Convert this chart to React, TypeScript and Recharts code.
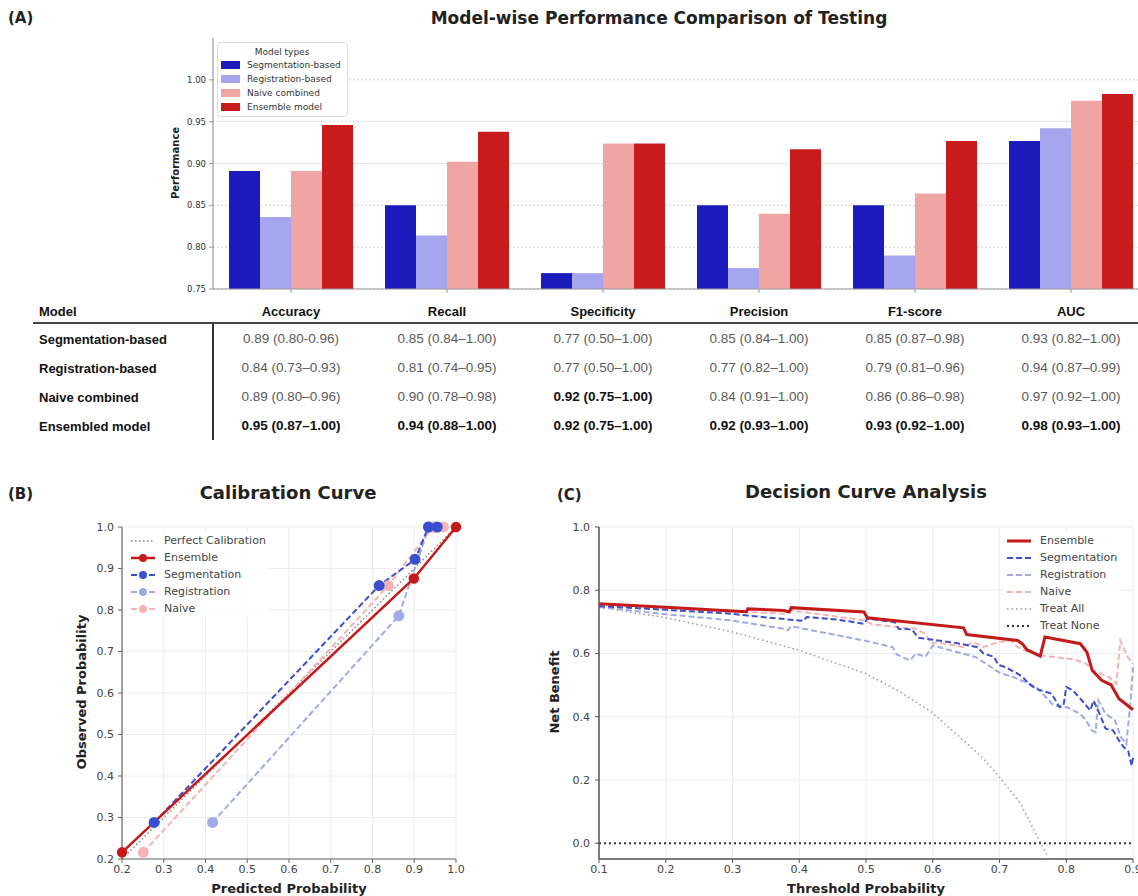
import React from 'react';
import { BarChart, Bar, XAxis, YAxis, CartesianGrid, Legend, LineChart, Line } from 'recharts';

// ---------- Panel A data ----------
const categories = ['Accuracy', 'Recall', 'Specificity', 'Precision', 'F1-score', 'AUC'];
const segmentationScores = [0.891, 0.85, 0.769, 0.85, 0.85, 0.927];
const registrationScores = [0.836, 0.814, 0.769, 0.775, 0.79, 0.942];
const naiveScores = [0.891, 0.902, 0.924, 0.84, 0.864, 0.975];
const ensembleScores = [0.946, 0.938, 0.924, 0.917, 0.927, 0.983];
const performanceTicks = [0.75, 0.8, 0.85, 0.9, 0.95, 1.0];
const modelTypeNames = ['Segmentation-based', 'Registration-based', 'Naive combined', 'Ensemble model'];

// ---------- Table data ----------
const tableModels = ['Segmentation-based', 'Registration-based', 'Naive combined', 'Ensembled model'];
const segmentationCells = ['0.89 (0.80-0.96)', '0.85 (0.84–1.00)', '0.77 (0.50–1.00)', '0.85 (0.84–1.00)', '0.85 (0.87–0.98)', '0.93 (0.82–1.00)'];
const registrationCells = ['0.84 (0.73–0.93)', '0.81 (0.74–0.95)', '0.77 (0.50–1.00)', '0.77 (0.82–1.00)', '0.79 (0.81–0.96)', '0.94 (0.87–0.99)'];
const naiveCells = ['0.89 (0.80–0.96)', '0.90 (0.78–0.98)', '0.92 (0.75–1.00)', '0.84 (0.91–1.00)', '0.86 (0.86–0.98)', '0.97 (0.92–1.00)'];
const ensembleCells = ['0.95 (0.87–1.00)', '0.94 (0.88–1.00)', '0.92 (0.75–1.00)', '0.92 (0.93–1.00)', '0.93 (0.92–1.00)', '0.98 (0.93–1.00)'];
const segmentationBold = [false, false, false, false, false, false];
const registrationBold = [false, false, false, false, false, false];
const naiveBold = [false, false, true, false, false, false];
const ensembleBold = [true, true, true, true, true, true];

// ---------- Panel B data (predicted, observed) ----------
const perfectCalibration = [[0.2, 0.2], [1.0, 1.0]];
const ensembleCalibration = [[0.2, 0.216], [0.899, 0.876], [1.0, 1.0]];
const segmentationCalibration = [[0.277, 0.288], [0.816, 0.859], [0.902, 0.922], [0.934, 1.0], [0.955, 1.0]];
const registrationCalibration = [[0.417, 0.288], [0.863, 0.786], [0.935, 1.0], [0.95, 1.0]];
const naiveCalibration = [[0.251, 0.216], [0.838, 0.859], [0.945, 1.0], [0.97, 1.0]];
const calibrationTicks = [0.2, 0.3, 0.4, 0.5, 0.6, 0.7, 0.8, 0.9, 1.0];

// ---------- Panel C data (threshold, net benefit) ----------
const ensembleDca = [[0.1, 0.757], [0.2, 0.746], [0.3, 0.734], [0.321, 0.732], [0.323, 0.741], [0.377, 0.736], [0.385, 0.731], [0.388, 0.745], [0.497, 0.731], [0.502, 0.713], [0.646, 0.681], [0.651, 0.66], [0.727, 0.641], [0.734, 0.631], [0.741, 0.612], [0.761, 0.592], [0.768, 0.652], [0.821, 0.631], [0.831, 0.604], [0.839, 0.546], [0.853, 0.515], [0.867, 0.501], [0.879, 0.457], [0.9, 0.422]];
const segmentationDca = [[0.1, 0.75], [0.2, 0.738], [0.297, 0.726], [0.322, 0.72], [0.406, 0.703], [0.411, 0.715], [0.457, 0.707], [0.497, 0.694], [0.502, 0.71], [0.543, 0.699], [0.549, 0.678], [0.569, 0.676], [0.578, 0.65], [0.641, 0.631], [0.667, 0.62], [0.676, 0.6], [0.692, 0.589], [0.698, 0.564], [0.709, 0.557], [0.727, 0.536], [0.735, 0.525], [0.744, 0.504], [0.755, 0.488], [0.778, 0.473], [0.79, 0.43], [0.796, 0.436], [0.8, 0.494], [0.81, 0.483], [0.819, 0.462], [0.836, 0.42], [0.841, 0.451], [0.85, 0.409], [0.859, 0.362], [0.87, 0.357], [0.879, 0.325], [0.886, 0.304], [0.893, 0.29], [0.898, 0.245], [0.9, 0.27]];
const registrationDca = [[0.1, 0.747], [0.2, 0.724], [0.297, 0.705], [0.377, 0.678], [0.383, 0.673], [0.388, 0.686], [0.497, 0.641], [0.54, 0.62], [0.546, 0.597], [0.566, 0.578], [0.575, 0.6], [0.589, 0.589], [0.6, 0.625], [0.664, 0.589], [0.701, 0.538], [0.721, 0.525], [0.738, 0.51], [0.755, 0.494], [0.781, 0.436], [0.801, 0.43], [0.821, 0.409], [0.83, 0.388], [0.838, 0.357], [0.844, 0.351], [0.848, 0.451], [0.859, 0.409], [0.873, 0.388], [0.882, 0.335], [0.89, 0.314], [0.896, 0.44], [0.9, 0.557]];
const naiveDca = [[0.1, 0.755], [0.297, 0.733], [0.377, 0.726], [0.388, 0.736], [0.497, 0.705], [0.509, 0.692], [0.575, 0.678], [0.589, 0.662], [0.598, 0.631], [0.606, 0.636], [0.646, 0.62], [0.661, 0.636], [0.675, 0.62], [0.698, 0.636], [0.718, 0.641], [0.727, 0.62], [0.738, 0.61], [0.761, 0.594], [0.813, 0.581], [0.83, 0.567], [0.841, 0.546], [0.864, 0.525], [0.875, 0.504], [0.881, 0.641], [0.892, 0.589], [0.9, 0.567]];
const treatAllDca = [[0.1, 0.747], [0.2, 0.713], [0.3, 0.668], [0.4, 0.61], [0.5, 0.536], [0.55, 0.48], [0.598, 0.415], [0.646, 0.325], [0.675, 0.27], [0.698, 0.214], [0.715, 0.17], [0.732, 0.124], [0.745, 0.07], [0.761, 0.003], [0.773, -0.044]];
const treatNoneDca = [[0.1, 0.0], [0.9, 0.0]];
const thresholdTicks = [0.1, 0.2, 0.3, 0.4, 0.5, 0.6, 0.7, 0.8, 0.9];
const netBenefitTicks = [0.0, 0.2, 0.4, 0.6, 0.8, 1.0];

// ---------- styles ----------
const DJ = "'DejaVu Sans', sans-serif";
const TF = "'Liberation Sans', Arial, sans-serif";
const C_SEG = '#1c1cbd';
const C_REG = '#a6a6ee';
const C_NAI = '#f0a5a5';
const C_ENS = '#c81c1c';
const barColors = [C_SEG, C_REG, C_NAI, C_ENS];
const L_ENS = '#c41a1a';
const L_SEG = '#3a4fd0';
const L_REG = '#a0aae6';
const L_NAI = '#f5b3b3';

const toPoints = (arr: number[][]) => arr.map(([x, y]) => ({ x, y }));

const barData = categories.map((c, i) => ({
  metric: c,
  seg: segmentationScores[i],
  reg: registrationScores[i],
  naive: naiveScores[i],
  ens: ensembleScores[i],
}));

const Txt = ({ x, y, children, size = 12, weight = 400, color = '#222', family = DJ, anchor = 'middle', rotate = 0 }: any) => {
  const tx = anchor === 'middle' ? '-50%' : anchor === 'end' ? '-100%' : '0';
  return (
    <div
      style={{
        position: 'absolute', left: x, top: y,
        transform: `translate(${tx},-50%) rotate(${rotate}deg)`,
        fontSize: size, fontWeight: weight, color, fontFamily: family,
        whiteSpace: 'nowrap', lineHeight: 1,
      }}
    >
      {children}
    </div>
  );
};

const BarLegend = () => (
  <div style={{ border: '1px solid #dcdcdc', borderRadius: 3, background: '#fff', padding: '3px 4px 2px 3px', fontFamily: DJ, fontSize: 9, color: '#333', width: 122, whiteSpace: 'nowrap' }}>
    <div style={{ textAlign: 'center', height: 12, lineHeight: '12px' }}>Model types</div>
    {modelTypeNames.map((n, i) => (
      <div key={n} style={{ display: 'flex', alignItems: 'center', height: 14 }}>
        <span style={{ display: 'inline-block', width: 19, height: 8, background: barColors[i], marginRight: 7, flex: 'none' }} />
        <span>{n}</span>
      </div>
    ))}
  </div>
);

type LegendItem = { name: string; color: string; dash?: string; width: number; marker?: boolean };

const LineLegend = ({ items }: { items: LegendItem[] }) => (
  <div style={{ background: 'rgba(255,255,255,0.85)', borderRadius: 3, padding: '0 4px', fontFamily: DJ, fontSize: 11, color: '#444', whiteSpace: 'nowrap' }}>
    {items.map((it) => (
      <div key={it.name} style={{ display: 'flex', alignItems: 'center', height: 17 }}>
        <svg width={26} height={12} style={{ marginRight: 8 }}>
          <line x1={1} x2={25} y1={6} y2={6} stroke={it.color} strokeWidth={it.width} strokeDasharray={it.dash} />
          {it.marker ? <circle cx={13} cy={6} r={4} fill={it.color} /> : null}
        </svg>
        <span>{it.name}</span>
      </div>
    ))}
  </div>
);

const calibrationLegend: LegendItem[] = [
  { name: 'Perfect Calibration', color: '#888', dash: '1.5 2.5', width: 1.5 },
  { name: 'Ensemble', color: L_ENS, width: 2.5, marker: true },
  { name: 'Segmentation', color: L_SEG, dash: '6 3', width: 2, marker: true },
  { name: 'Registration', color: L_REG, dash: '6 3', width: 2, marker: true },
  { name: 'Naive', color: L_NAI, dash: '6 3', width: 2, marker: true },
];

const dcaLegend: LegendItem[] = [
  { name: 'Ensemble', color: L_ENS, width: 3 },
  { name: 'Segmentation', color: L_SEG, dash: '6 3', width: 2 },
  { name: 'Registration', color: L_REG, dash: '6 3', width: 2 },
  { name: 'Naive', color: L_NAI, dash: '6 3', width: 2 },
  { name: 'Treat All', color: '#999', dash: '1.5 3', width: 1.5 },
  { name: 'Treat None', color: '#333', dash: '2 3', width: 2 },
];

const tickStyle = { fontSize: 11, fill: '#444', fontFamily: DJ };

export default function App() {
  const rows = [
    { cells: segmentationCells, bold: segmentationBold },
    { cells: registrationCells, bold: registrationBold },
    { cells: naiveCells, bold: naiveBold },
    { cells: ensembleCells, bold: ensembleBold },
  ];
  const colX = (i: number) => 291 + 156 * i;
  const rowY = [339, 368, 397, 426];

  return (
    <div style={{ position: 'absolute', left: 0, top: 0, width: 1138, height: 896, overflow: 'hidden', background: '#fff' }}>
      {/* Panel A */}
      <Txt x={8} y={18} size={15} weight={700} anchor="start">(A)</Txt>
      <Txt x={659} y={18} size={17} weight={700}>Model-wise Performance Comparison of Testing</Txt>
      <Txt x={176} y={163} size={10} weight={700} rotate={-90}>Performance</Txt>

      <div style={{ position: 'absolute', left: 0, top: 0 }}>
        <BarChart width={1160} height={300} data={barData} margin={{ top: 38, right: 11, bottom: 1, left: 168 }} barCategoryGap={16} barGap={0}>
          <CartesianGrid vertical={false} stroke="#cfcfcf" strokeDasharray="2 2" syncWithTicks />
          <XAxis dataKey="metric" height={10} tickSize={4} tick={() => <g />} axisLine={{ stroke: '#999', strokeWidth: 1.2 }} tickLine={{ stroke: '#999' }} />
          <YAxis width={45} domain={[0.75, 1.05]} ticks={performanceTicks} allowDataOverflow tickFormatter={(v: number) => v.toFixed(2)} tick={{ fontSize: 8.5, fill: '#333', fontFamily: DJ }} tickSize={4} tickMargin={3} axisLine={{ stroke: '#999', strokeWidth: 1.2 }} tickLine={{ stroke: '#999' }} />
          <Legend layout="vertical" align="center" verticalAlign="middle" wrapperStyle={{ left: 217, top: 42, width: 131 }} content={() => <BarLegend />} />
          <Bar dataKey="seg" name={modelTypeNames[0]} fill={C_SEG} isAnimationActive={false} />
          <Bar dataKey="reg" name={modelTypeNames[1]} fill={C_REG} isAnimationActive={false} />
          <Bar dataKey="naive" name={modelTypeNames[2]} fill={C_NAI} isAnimationActive={false} />
          <Bar dataKey="ens" name={modelTypeNames[3]} fill={C_ENS} isAnimationActive={false} />
        </BarChart>
      </div>

      {/* Table */}
      <Txt x={39} y={311} size={13} weight={700} family={TF} anchor="start" color="#111">Model</Txt>
      {categories.map((c, i) => (
        <Txt key={c} x={colX(i)} y={311} size={13} weight={700} family={TF} color="#111">{c}</Txt>
      ))}
      <div style={{ position: 'absolute', left: 33, top: 322, width: 1110, height: 2, background: '#444' }} />
      <div style={{ position: 'absolute', left: 212, top: 323, width: 2, height: 117, background: '#333' }} />
      {tableModels.map((m, r) => (
        <React.Fragment key={m}>
          <Txt x={39} y={rowY[r]} size={13} weight={700} family={TF} anchor="start" color="#111">{m}</Txt>
          {rows[r].cells.map((v, i) => (
            <Txt key={i} x={colX(i)} y={rowY[r]} size={13.5} weight={rows[r].bold[i] ? 700 : 400} family={TF} color={rows[r].bold[i] ? '#111' : '#5a5a5a'}>{v}</Txt>
          ))}
        </React.Fragment>
      ))}

      {/* Panel B */}
      <Txt x={8} y={494} size={15} weight={700} anchor="start">(B)</Txt>
      <Txt x={288} y={493} size={18} weight={700}>Calibration Curve</Txt>
      <Txt x={81} y={692} size={13} weight={700} rotate={-90}>Observed Probability</Txt>
      <Txt x={289} y={888} size={13} weight={700}>Predicted Probability</Txt>
      <div style={{ position: 'absolute', left: 0, top: 500 }}>
        <LineChart width={470} height={396} margin={{ top: 27, right: 14, bottom: 7, left: 82 }}>
          <CartesianGrid stroke="#ececec" />
          <XAxis dataKey="x" type="number" domain={[0.2, 1]} ticks={calibrationTicks} tickFormatter={(v: number) => v.toFixed(1)} height={30} tick={tickStyle} tickSize={4} tickMargin={2} axisLine={{ stroke: '#666', strokeWidth: 1.2 }} tickLine={{ stroke: '#666' }} />
          <YAxis dataKey="y" type="number" domain={[0.2, 1]} ticks={calibrationTicks} tickFormatter={(v: number) => v.toFixed(1)} width={40} tick={tickStyle} tickSize={4} tickMargin={4} axisLine={{ stroke: '#666', strokeWidth: 1.2 }} tickLine={{ stroke: '#666' }} />
          <Legend layout="vertical" align="center" verticalAlign="middle" wrapperStyle={{ left: 126, top: 32, width: 'auto' }} content={() => <LineLegend items={calibrationLegend} />} />
          <Line data={toPoints(perfectCalibration)} dataKey="y" name="Perfect Calibration" stroke="#888" strokeWidth={1.5} strokeDasharray="1.5 2.5" dot={false} isAnimationActive={false} />
          <Line data={toPoints(registrationCalibration)} dataKey="y" name="Registration" stroke={L_REG} strokeWidth={2} strokeDasharray="6 3" dot={{ r: 4.5, fill: L_REG, stroke: L_REG, strokeDasharray: '' }} isAnimationActive={false} />
          <Line data={toPoints(naiveCalibration)} dataKey="y" name="Naive" stroke={L_NAI} strokeWidth={2} strokeDasharray="6 3" dot={{ r: 4.5, fill: L_NAI, stroke: L_NAI, strokeDasharray: '' }} isAnimationActive={false} />
          <Line data={toPoints(segmentationCalibration)} dataKey="y" name="Segmentation" stroke={L_SEG} strokeWidth={2} strokeDasharray="6 3" dot={{ r: 4.5, fill: L_SEG, stroke: L_SEG, strokeDasharray: '' }} isAnimationActive={false} />
          <Line data={toPoints(ensembleCalibration)} dataKey="y" name="Ensemble" stroke={L_ENS} strokeWidth={2.5} dot={{ r: 4, fill: L_ENS, stroke: L_ENS }} isAnimationActive={false} />
        </LineChart>
      </div>

      {/* Panel C */}
      <Txt x={557} y={495} size={15} weight={700} anchor="start">(C)</Txt>
      <Txt x={866} y={492} size={18} weight={700}>Decision Curve Analysis</Txt>
      <Txt x={554} y={692} size={13} weight={700} rotate={-90}>Net Benefit</Txt>
      <Txt x={866} y={888} size={13} weight={700}>Threshold Probability</Txt>
      <div style={{ position: 'absolute', left: 540, top: 500 }}>
        <LineChart width={610} height={396} margin={{ top: 27, right: 17, bottom: 7, left: 19 }}>
          <CartesianGrid stroke="#ececec" />
          <XAxis dataKey="x" type="number" domain={[0.1, 0.9]} ticks={thresholdTicks} tickFormatter={(v: number) => v.toFixed(1)} height={30} tick={tickStyle} tickSize={4} tickMargin={2} axisLine={{ stroke: '#555', strokeWidth: 1.5 }} tickLine={{ stroke: '#555' }} />
          <YAxis dataKey="y" type="number" domain={[-0.05, 1]} ticks={netBenefitTicks} tickFormatter={(v: number) => v.toFixed(1)} width={40} tick={tickStyle} tickSize={4} tickMargin={5} axisLine={{ stroke: '#555', strokeWidth: 1.5 }} tickLine={{ stroke: '#555' }} />
          <Legend layout="vertical" align="center" verticalAlign="middle" wrapperStyle={{ left: 462, top: 32, width: 'auto' }} content={() => <LineLegend items={dcaLegend} />} />
          <Line data={toPoints(treatAllDca)} dataKey="y" name="Treat All" stroke="#999" strokeWidth={1.5} strokeDasharray="1.5 3" dot={false} isAnimationActive={false} />
          <Line data={toPoints(treatNoneDca)} dataKey="y" name="Treat None" stroke="#333" strokeWidth={2} strokeDasharray="2 3" dot={false} isAnimationActive={false} />
          <Line data={toPoints(registrationDca)} dataKey="y" name="Registration" stroke={L_REG} strokeWidth={2} strokeDasharray="6 3" dot={false} isAnimationActive={false} />
          <Line data={toPoints(naiveDca)} dataKey="y" name="Naive" stroke={L_NAI} strokeWidth={2} strokeDasharray="6 3" dot={false} isAnimationActive={false} />
          <Line data={toPoints(segmentationDca)} dataKey="y" name="Segmentation" stroke={L_SEG} strokeWidth={2} strokeDasharray="6 3" dot={false} isAnimationActive={false} />
          <Line data={toPoints(ensembleDca)} dataKey="y" name="Ensemble" stroke={L_ENS} strokeWidth={3} dot={false} isAnimationActive={false} />
        </LineChart>
      </div>
    </div>
  );
}
